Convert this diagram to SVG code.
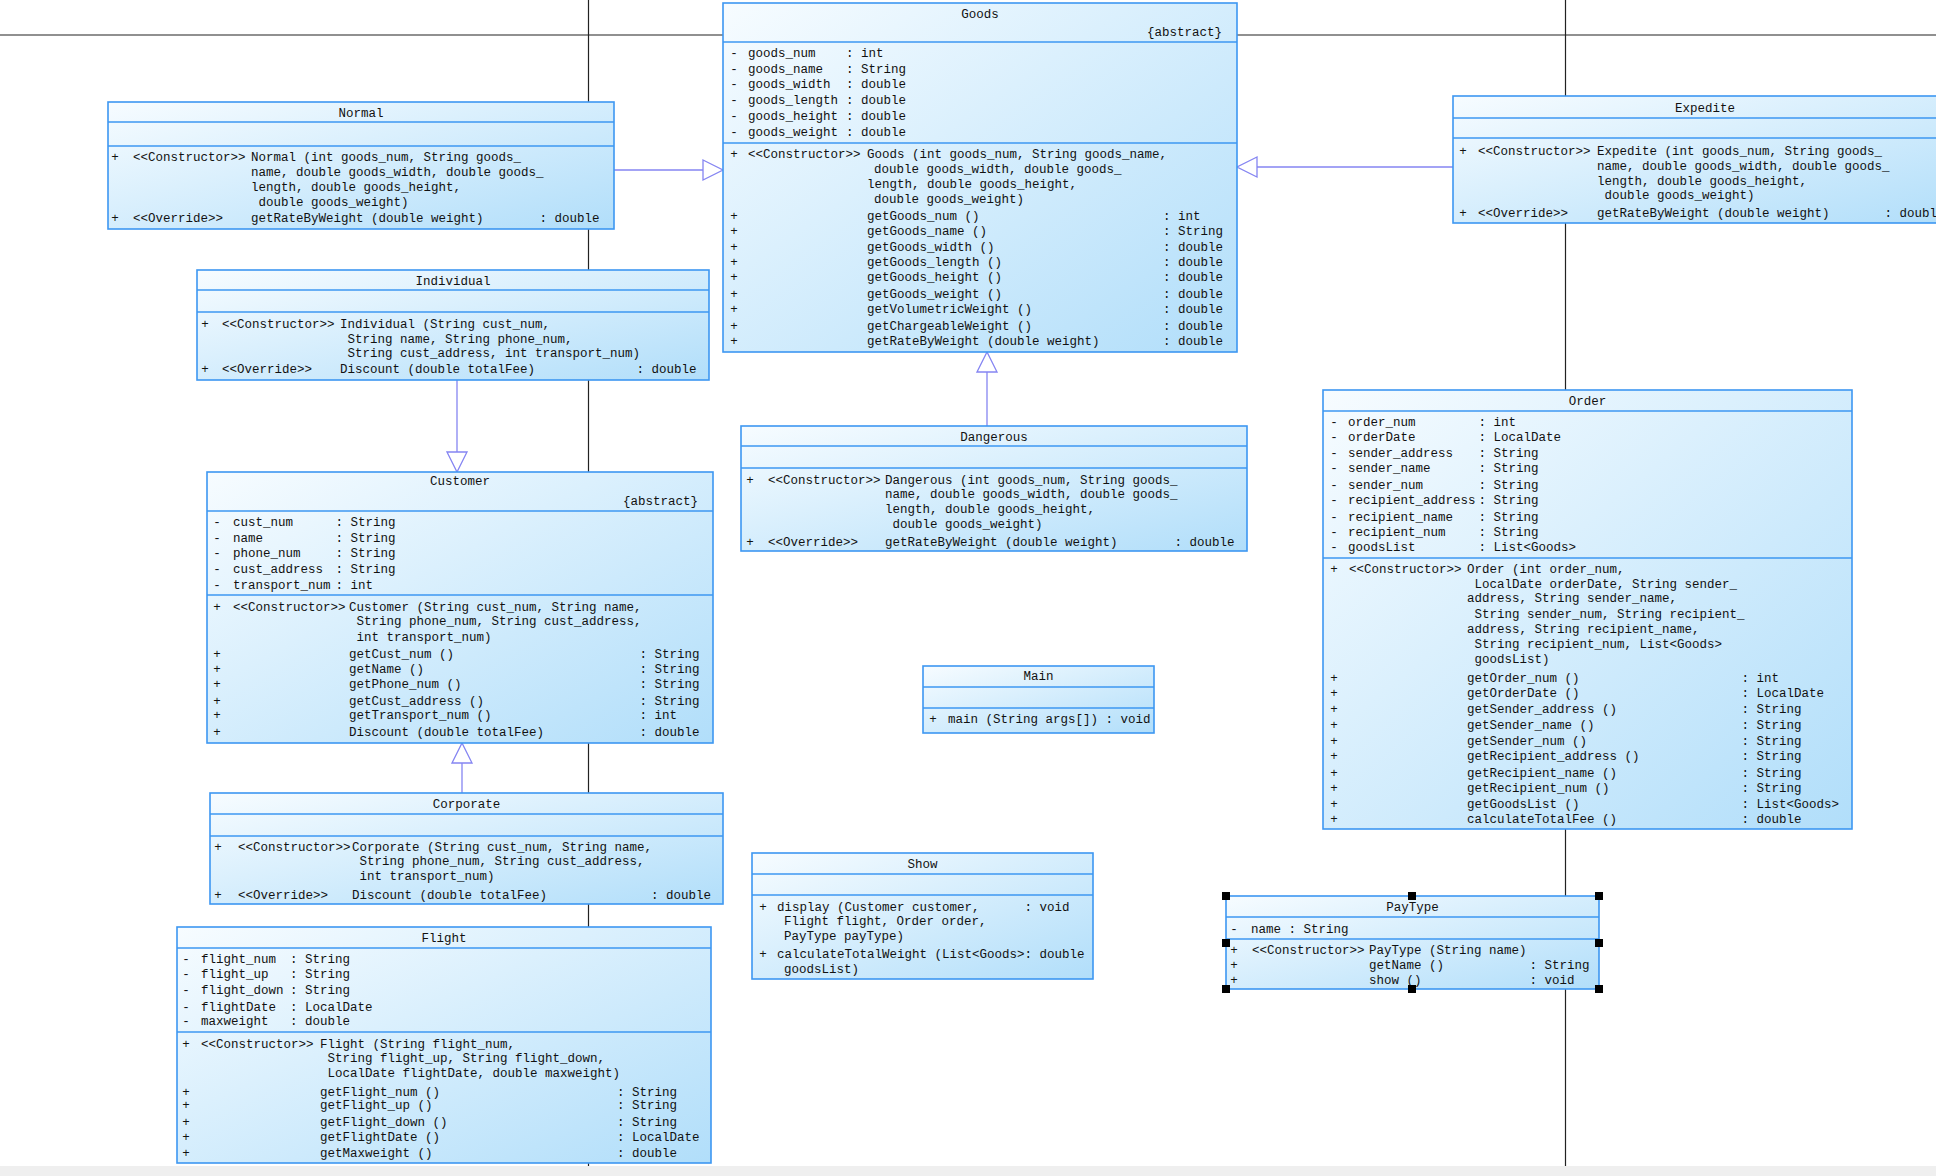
<svg xmlns="http://www.w3.org/2000/svg" width="1936" height="1176" viewBox="0 0 1936 1176">
<defs>
<linearGradient id="g" x1="0" y1="0" x2="1" y2="1">
<stop offset="0" stop-color="#f7fcff"/>
<stop offset="1" stop-color="#b1defa"/>
</linearGradient>
<style>
.box{fill:url(#g);stroke:#3d97f2;stroke-width:1.6}
.dv{stroke:#3d97f2;stroke-width:1.6}
.t{font-family:"Liberation Mono",monospace;font-size:12.5px;fill:#111;white-space:pre}
.c{text-anchor:middle}
.e{text-anchor:end}
.bg{stroke:#222;stroke-width:1.2;fill:none}
.cn{stroke:#8585f2;stroke-width:1.3;fill:none}
.tri{fill:#fff;stroke:#8585f2;stroke-width:1.3}
.h{fill:#000}
</style>
</defs>
<rect x="0" y="0" width="1936" height="1176" fill="#fff"/>
<rect x="0" y="1166" width="1936" height="10" fill="#efefef"/>
<g id="background-lines">
<line class="bg" x1="0" y1="35" x2="1936" y2="35" stroke-width="2"/>
<line class="bg" x1="588.5" y1="0" x2="588.5" y2="1166"/>
<line class="bg" x1="1565.5" y1="0" x2="1565.5" y2="1166"/>
</g>
<g id="connectors">
<line class="cn" x1="614" y1="170" x2="703" y2="170"/>
<polygon class="tri" points="703,160 723,170 703,180"/>
<line class="cn" x1="1453" y1="167" x2="1257" y2="167"/>
<polygon class="tri" points="1257,157 1237,167 1257,177"/>
<line class="cn" x1="987" y1="426" x2="987" y2="372"/>
<polygon class="tri" points="977,372 987,352 997,372"/>
<line class="cn" x1="457" y1="380" x2="457" y2="452"/>
<polygon class="tri" points="447,452 457,472 467,452"/>
<line class="cn" x1="462" y1="793" x2="462" y2="763"/>
<polygon class="tri" points="452,763 462,743 472,763"/>
</g>
<g id="Goods">
<rect class="box" x="723" y="3" width="514" height="349"/>
<line class="dv" x1="723" y1="42" x2="1237" y2="42"/>
<line class="dv" x1="723" y1="143" x2="1237" y2="143"/>
<text class="t c" x="980" y="18">Goods</text>
<text class="t e" x="1222" y="36">{abstract}</text>
<text class="t c" x="734" y="57">-</text><text class="t" x="748" y="57">goods_num</text><text class="t" x="846" y="57">: int</text>
<text class="t c" x="734" y="73">-</text><text class="t" x="748" y="73">goods_name</text><text class="t" x="846" y="73">: String</text>
<text class="t c" x="734" y="88">-</text><text class="t" x="748" y="88">goods_width</text><text class="t" x="846" y="88">: double</text>
<text class="t c" x="734" y="104">-</text><text class="t" x="748" y="104">goods_length</text><text class="t" x="846" y="104">: double</text>
<text class="t c" x="734" y="120">-</text><text class="t" x="748" y="120">goods_height</text><text class="t" x="846" y="120">: double</text>
<text class="t c" x="734" y="136">-</text><text class="t" x="748" y="136">goods_weight</text><text class="t" x="846" y="136">: double</text>
<text class="t c" x="734" y="158">+</text><text class="t" x="748" y="158">&lt;&lt;Constructor&gt;&gt;</text><text class="t" x="867" y="158">Goods (int goods_num, String goods_name,</text>
<text class="t" x="874" y="173">double goods_width, double goods_</text>
<text class="t" x="867" y="188">length, double goods_height,</text>
<text class="t" x="874" y="203">double goods_weight)</text>
<text class="t c" x="734" y="220">+</text><text class="t" x="867" y="220">getGoods_num ()</text><text class="t" x="1163" y="220">: int</text>
<text class="t c" x="734" y="235">+</text><text class="t" x="867" y="235">getGoods_name ()</text><text class="t" x="1163" y="235">: String</text>
<text class="t c" x="734" y="251">+</text><text class="t" x="867" y="251">getGoods_width ()</text><text class="t" x="1163" y="251">: double</text>
<text class="t c" x="734" y="266">+</text><text class="t" x="867" y="266">getGoods_length ()</text><text class="t" x="1163" y="266">: double</text>
<text class="t c" x="734" y="281">+</text><text class="t" x="867" y="281">getGoods_height ()</text><text class="t" x="1163" y="281">: double</text>
<text class="t c" x="734" y="298">+</text><text class="t" x="867" y="298">getGoods_weight ()</text><text class="t" x="1163" y="298">: double</text>
<text class="t c" x="734" y="313">+</text><text class="t" x="867" y="313">getVolumetricWeight ()</text><text class="t" x="1163" y="313">: double</text>
<text class="t c" x="734" y="330">+</text><text class="t" x="867" y="330">getChargeableWeight ()</text><text class="t" x="1163" y="330">: double</text>
<text class="t c" x="734" y="345">+</text><text class="t" x="867" y="345">getRateByWeight (double weight)</text><text class="t" x="1163" y="345">: double</text>
</g>
<g id="Normal">
<rect class="box" x="108" y="102" width="506" height="127"/>
<line class="dv" x1="108" y1="122" x2="614" y2="122"/>
<line class="dv" x1="108" y1="146" x2="614" y2="146"/>
<text class="t c" x="361" y="116.5">Normal</text>
<text class="t c" x="115" y="161">+</text><text class="t" x="133" y="161">&lt;&lt;Constructor&gt;&gt;</text><text class="t" x="251" y="161">Normal (int goods_num, String goods_</text>
<text class="t" x="251" y="176">name, double goods_width, double goods_</text>
<text class="t" x="251" y="191">length, double goods_height,</text>
<text class="t" x="258.5" y="206">double goods_weight)</text>
<text class="t c" x="115" y="222">+</text><text class="t" x="133" y="222">&lt;&lt;Override&gt;&gt;</text><text class="t" x="251" y="222">getRateByWeight (double weight)</text><text class="t" x="539.5" y="222">: double</text>
</g>
<g id="Expedite">
<rect class="box" x="1453" y="96" width="504" height="127"/>
<line class="dv" x1="1453" y1="118" x2="1957" y2="118"/>
<line class="dv" x1="1453" y1="138" x2="1957" y2="138"/>
<text class="t c" x="1705" y="111.5">Expedite</text>
<text class="t c" x="1463" y="155">+</text><text class="t" x="1478" y="155">&lt;&lt;Constructor&gt;&gt;</text><text class="t" x="1597" y="155">Expedite (int goods_num, String goods_</text>
<text class="t" x="1597" y="170">name, double goods_width, double goods_</text>
<text class="t" x="1597" y="185">length, double goods_height,</text>
<text class="t" x="1604.5" y="199">double goods_weight)</text>
<text class="t c" x="1463" y="217">+</text><text class="t" x="1478" y="217">&lt;&lt;Override&gt;&gt;</text><text class="t" x="1597" y="217">getRateByWeight (double weight)</text><text class="t" x="1884.5" y="217">: double</text>
</g>
<g id="Individual">
<rect class="box" x="197" y="270" width="512" height="110"/>
<line class="dv" x1="197" y1="290" x2="709" y2="290"/>
<line class="dv" x1="197" y1="312" x2="709" y2="312"/>
<text class="t c" x="453" y="284.5">Individual</text>
<text class="t c" x="205" y="328">+</text><text class="t" x="222" y="328">&lt;&lt;Constructor&gt;&gt;</text><text class="t" x="340" y="328">Individual (String cust_num,</text>
<text class="t" x="347.5" y="343">String name, String phone_num,</text>
<text class="t" x="347.5" y="357">String cust_address, int transport_num)</text>
<text class="t c" x="205" y="373">+</text><text class="t" x="222" y="373">&lt;&lt;Override&gt;&gt;</text><text class="t" x="340" y="373">Discount (double totalFee)</text><text class="t" x="636.5" y="373">: double</text>
</g>
<g id="Customer">
<rect class="box" x="207" y="472" width="506" height="271"/>
<line class="dv" x1="207" y1="511" x2="713" y2="511"/>
<line class="dv" x1="207" y1="595" x2="713" y2="595"/>
<text class="t c" x="460" y="485">Customer</text>
<text class="t e" x="698" y="505">{abstract}</text>
<text class="t c" x="217" y="526">-</text><text class="t" x="233" y="526">cust_num</text><text class="t" x="335.5" y="526">: String</text>
<text class="t c" x="217" y="542">-</text><text class="t" x="233" y="542">name</text><text class="t" x="335.5" y="542">: String</text>
<text class="t c" x="217" y="557">-</text><text class="t" x="233" y="557">phone_num</text><text class="t" x="335.5" y="557">: String</text>
<text class="t c" x="217" y="573">-</text><text class="t" x="233" y="573">cust_address</text><text class="t" x="335.5" y="573">: String</text>
<text class="t c" x="217" y="589">-</text><text class="t" x="233" y="589">transport_num</text><text class="t" x="335.5" y="589">: int</text>
<text class="t c" x="217" y="611">+</text><text class="t" x="233" y="611">&lt;&lt;Constructor&gt;&gt;</text><text class="t" x="349" y="611">Customer (String cust_num, String name,</text>
<text class="t" x="356.5" y="625">String phone_num, String cust_address,</text>
<text class="t" x="356.5" y="641">int transport_num)</text>
<text class="t c" x="217" y="658">+</text><text class="t" x="349" y="658">getCust_num ()</text><text class="t" x="639.5" y="658">: String</text>
<text class="t c" x="217" y="673">+</text><text class="t" x="349" y="673">getName ()</text><text class="t" x="639.5" y="673">: String</text>
<text class="t c" x="217" y="688">+</text><text class="t" x="349" y="688">getPhone_num ()</text><text class="t" x="639.5" y="688">: String</text>
<text class="t c" x="217" y="705">+</text><text class="t" x="349" y="705">getCust_address ()</text><text class="t" x="639.5" y="705">: String</text>
<text class="t c" x="217" y="719">+</text><text class="t" x="349" y="719">getTransport_num ()</text><text class="t" x="639.5" y="719">: int</text>
<text class="t c" x="217" y="736">+</text><text class="t" x="349" y="736">Discount (double totalFee)</text><text class="t" x="639.5" y="736">: double</text>
</g>
<g id="Dangerous">
<rect class="box" x="741" y="426" width="506" height="125"/>
<line class="dv" x1="741" y1="446" x2="1247" y2="446"/>
<line class="dv" x1="741" y1="468" x2="1247" y2="468"/>
<text class="t c" x="994" y="441">Dangerous</text>
<text class="t c" x="750" y="484">+</text><text class="t" x="768" y="484">&lt;&lt;Constructor&gt;&gt;</text><text class="t" x="885" y="484">Dangerous (int goods_num, String goods_</text>
<text class="t" x="885" y="498">name, double goods_width, double goods_</text>
<text class="t" x="885" y="513">length, double goods_height,</text>
<text class="t" x="892.5" y="528">double goods_weight)</text>
<text class="t c" x="750" y="546">+</text><text class="t" x="768" y="546">&lt;&lt;Override&gt;&gt;</text><text class="t" x="885" y="546">getRateByWeight (double weight)</text><text class="t" x="1174.5" y="546">: double</text>
</g>
<g id="Order">
<rect class="box" x="1323" y="390" width="529" height="439"/>
<line class="dv" x1="1323" y1="411" x2="1852" y2="411"/>
<line class="dv" x1="1323" y1="558" x2="1852" y2="558"/>
<text class="t c" x="1587.5" y="405">Order</text>
<text class="t c" x="1334" y="426">-</text><text class="t" x="1348" y="426">order_num</text><text class="t" x="1478.5" y="426">: int</text>
<text class="t c" x="1334" y="441">-</text><text class="t" x="1348" y="441">orderDate</text><text class="t" x="1478.5" y="441">: LocalDate</text>
<text class="t c" x="1334" y="457">-</text><text class="t" x="1348" y="457">sender_address</text><text class="t" x="1478.5" y="457">: String</text>
<text class="t c" x="1334" y="472">-</text><text class="t" x="1348" y="472">sender_name</text><text class="t" x="1478.5" y="472">: String</text>
<text class="t c" x="1334" y="489">-</text><text class="t" x="1348" y="489">sender_num</text><text class="t" x="1478.5" y="489">: String</text>
<text class="t c" x="1334" y="504">-</text><text class="t" x="1348" y="504">recipient_address</text><text class="t" x="1478.5" y="504">: String</text>
<text class="t c" x="1334" y="521">-</text><text class="t" x="1348" y="521">recipient_name</text><text class="t" x="1478.5" y="521">: String</text>
<text class="t c" x="1334" y="536">-</text><text class="t" x="1348" y="536">recipient_num</text><text class="t" x="1478.5" y="536">: String</text>
<text class="t c" x="1334" y="551">-</text><text class="t" x="1348" y="551">goodsList</text><text class="t" x="1478.5" y="551">: List&lt;Goods&gt;</text>
<text class="t c" x="1334" y="573">+</text><text class="t" x="1349" y="573">&lt;&lt;Constructor&gt;&gt;</text><text class="t" x="1467" y="573">Order (int order_num,</text>
<text class="t" x="1474.5" y="588">LocalDate orderDate, String sender_</text>
<text class="t" x="1467" y="602">address, String sender_name,</text>
<text class="t" x="1474.5" y="618">String sender_num, String recipient_</text>
<text class="t" x="1467" y="633">address, String recipient_name,</text>
<text class="t" x="1474.5" y="648">String recipient_num, List&lt;Goods&gt;</text>
<text class="t" x="1474.5" y="663">goodsList)</text>
<text class="t c" x="1334" y="682">+</text><text class="t" x="1467" y="682">getOrder_num ()</text><text class="t" x="1741.5" y="682">: int</text>
<text class="t c" x="1334" y="697">+</text><text class="t" x="1467" y="697">getOrderDate ()</text><text class="t" x="1741.5" y="697">: LocalDate</text>
<text class="t c" x="1334" y="713">+</text><text class="t" x="1467" y="713">getSender_address ()</text><text class="t" x="1741.5" y="713">: String</text>
<text class="t c" x="1334" y="729">+</text><text class="t" x="1467" y="729">getSender_name ()</text><text class="t" x="1741.5" y="729">: String</text>
<text class="t c" x="1334" y="745">+</text><text class="t" x="1467" y="745">getSender_num ()</text><text class="t" x="1741.5" y="745">: String</text>
<text class="t c" x="1334" y="760">+</text><text class="t" x="1467" y="760">getRecipient_address ()</text><text class="t" x="1741.5" y="760">: String</text>
<text class="t c" x="1334" y="777">+</text><text class="t" x="1467" y="777">getRecipient_name ()</text><text class="t" x="1741.5" y="777">: String</text>
<text class="t c" x="1334" y="792">+</text><text class="t" x="1467" y="792">getRecipient_num ()</text><text class="t" x="1741.5" y="792">: String</text>
<text class="t c" x="1334" y="808">+</text><text class="t" x="1467" y="808">getGoodsList ()</text><text class="t" x="1741.5" y="808">: List&lt;Goods&gt;</text>
<text class="t c" x="1334" y="823">+</text><text class="t" x="1467" y="823">calculateTotalFee ()</text><text class="t" x="1741.5" y="823">: double</text>
</g>
<g id="Main">
<rect class="box" x="923" y="666" width="231" height="67"/>
<line class="dv" x1="923" y1="687" x2="1154" y2="687"/>
<line class="dv" x1="923" y1="708" x2="1154" y2="708"/>
<text class="t c" x="1038.5" y="680">Main</text>
<text class="t c" x="933" y="723">+</text><text class="t" x="948" y="723">main (String args[]) : void</text>
</g>
<g id="Show">
<rect class="box" x="752" y="853" width="341" height="126"/>
<line class="dv" x1="752" y1="874" x2="1093" y2="874"/>
<line class="dv" x1="752" y1="895" x2="1093" y2="895"/>
<text class="t c" x="922.5" y="868">Show</text>
<text class="t c" x="763" y="911">+</text><text class="t" x="777" y="911">display (Customer customer,</text><text class="t" x="1024.5" y="911">: void</text>
<text class="t" x="784" y="925">Flight flight, Order order,</text>
<text class="t" x="784" y="940">PayType payType)</text>
<text class="t c" x="763" y="958">+</text><text class="t" x="777" y="958">calculateTotalWeight (List&lt;Goods&gt;: double</text>
<text class="t" x="784" y="973">goodsList)</text>
</g>
<g id="Corporate">
<rect class="box" x="210" y="793" width="513" height="111"/>
<line class="dv" x1="210" y1="814" x2="723" y2="814"/>
<line class="dv" x1="210" y1="836" x2="723" y2="836"/>
<text class="t c" x="466.5" y="808">Corporate</text>
<text class="t c" x="218" y="851">+</text><text class="t" x="238" y="851">&lt;&lt;Constructor&gt;&gt;</text><text class="t" x="352" y="851">Corporate (String cust_num, String name,</text>
<text class="t" x="359.5" y="865">String phone_num, String cust_address,</text>
<text class="t" x="359.5" y="880">int transport_num)</text>
<text class="t c" x="218" y="899">+</text><text class="t" x="238" y="899">&lt;&lt;Override&gt;&gt;</text><text class="t" x="352" y="899">Discount (double totalFee)</text><text class="t" x="651" y="899">: double</text>
</g>
<g id="Flight">
<rect class="box" x="177" y="927" width="534" height="236"/>
<line class="dv" x1="177" y1="948" x2="711" y2="948"/>
<line class="dv" x1="177" y1="1032" x2="711" y2="1032"/>
<text class="t c" x="444" y="942">Flight</text>
<text class="t c" x="186" y="963">-</text><text class="t" x="201" y="963">flight_num</text><text class="t" x="290" y="963">: String</text>
<text class="t c" x="186" y="978">-</text><text class="t" x="201" y="978">flight_up</text><text class="t" x="290" y="978">: String</text>
<text class="t c" x="186" y="994">-</text><text class="t" x="201" y="994">flight_down</text><text class="t" x="290" y="994">: String</text>
<text class="t c" x="186" y="1011">-</text><text class="t" x="201" y="1011">flightDate</text><text class="t" x="290" y="1011">: LocalDate</text>
<text class="t c" x="186" y="1025">-</text><text class="t" x="201" y="1025">maxweight</text><text class="t" x="290" y="1025">: double</text>
<text class="t c" x="186" y="1048">+</text><text class="t" x="201" y="1048">&lt;&lt;Constructor&gt;&gt;</text><text class="t" x="320" y="1048">Flight (String flight_num,</text>
<text class="t" x="327.5" y="1062">String flight_up, String flight_down,</text>
<text class="t" x="327.5" y="1077">LocalDate flightDate, double maxweight)</text>
<text class="t c" x="186" y="1096">+</text><text class="t" x="320" y="1096">getFlight_num ()</text><text class="t" x="617" y="1096">: String</text>
<text class="t c" x="186" y="1109">+</text><text class="t" x="320" y="1109">getFlight_up ()</text><text class="t" x="617" y="1109">: String</text>
<text class="t c" x="186" y="1126">+</text><text class="t" x="320" y="1126">getFlight_down ()</text><text class="t" x="617" y="1126">: String</text>
<text class="t c" x="186" y="1141">+</text><text class="t" x="320" y="1141">getFlightDate ()</text><text class="t" x="617" y="1141">: LocalDate</text>
<text class="t c" x="186" y="1157">+</text><text class="t" x="320" y="1157">getMaxweight ()</text><text class="t" x="617" y="1157">: double</text>
</g>
<g id="PayType">
<rect class="box" x="1226" y="896" width="373" height="93"/>
<line class="dv" x1="1226" y1="917" x2="1599" y2="917"/>
<line class="dv" x1="1226" y1="939" x2="1599" y2="939"/>
<text class="t c" x="1412.5" y="911">PayType</text>
<text class="t c" x="1234" y="933">-</text><text class="t" x="1251" y="933">name : String</text>
<text class="t c" x="1234" y="954">+</text><text class="t" x="1252" y="954">&lt;&lt;Constructor&gt;&gt;</text><text class="t" x="1369" y="954">PayType (String name)</text>
<text class="t c" x="1234" y="969">+</text><text class="t" x="1369" y="969">getName ()</text><text class="t" x="1529.5" y="969">: String</text>
<text class="t c" x="1234" y="984">+</text><text class="t" x="1369" y="984">show ()</text><text class="t" x="1529.5" y="984">: void</text>
<g id="PayType-handles">
<rect class="h" x="1222" y="892" width="8" height="8"/>
<rect class="h" x="1408" y="892" width="8" height="8"/>
<rect class="h" x="1595" y="892" width="8" height="8"/>
<rect class="h" x="1222" y="939" width="8" height="8"/>
<rect class="h" x="1595" y="939" width="8" height="8"/>
<rect class="h" x="1222" y="985" width="8" height="8"/>
<rect class="h" x="1408" y="985" width="8" height="8"/>
<rect class="h" x="1595" y="985" width="8" height="8"/>
</g>
</g>
</svg>
